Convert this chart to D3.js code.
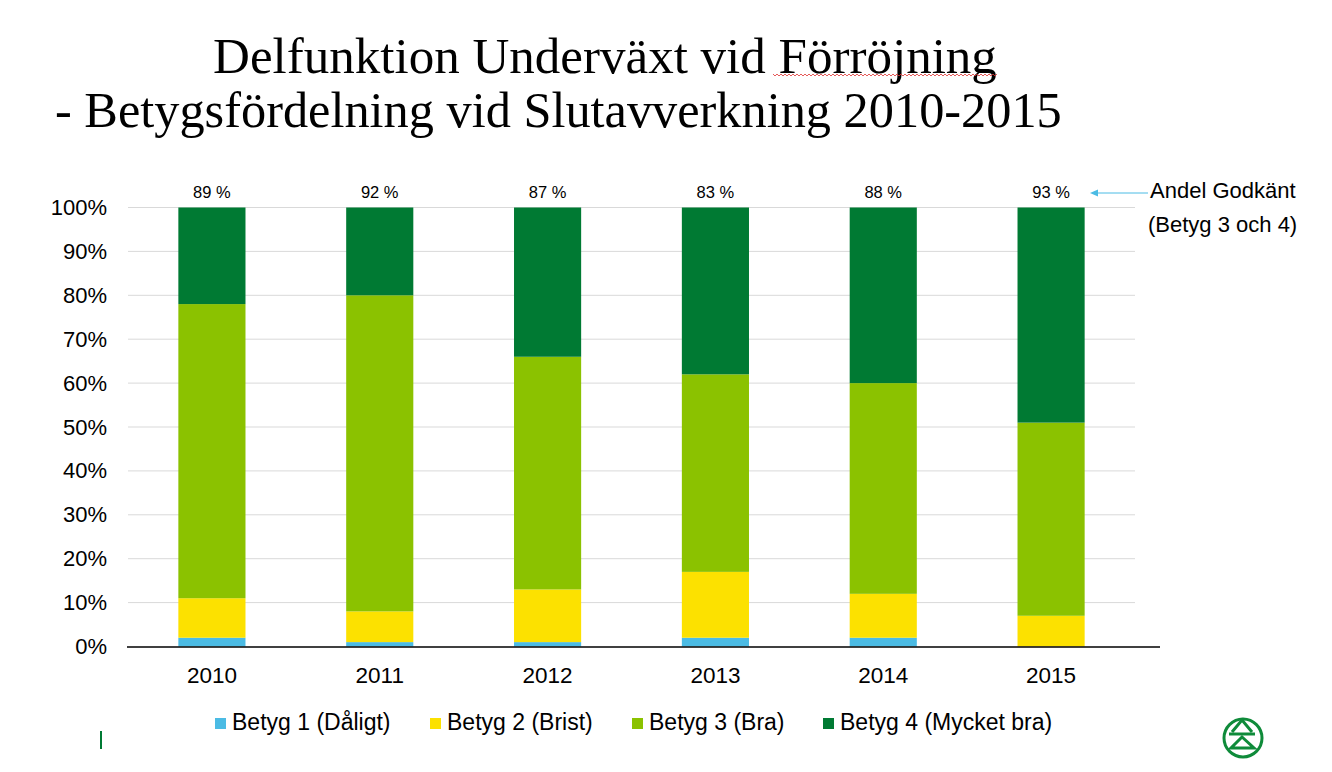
<!DOCTYPE html>
<html>
<head>
<meta charset="utf-8">
<script src="https://cdnjs.cloudflare.com/ajax/libs/d3/7.8.5/d3.min.js"></script>
<style>
  body { margin: 0; background: #fff; }
  text { font-family: Arial, "Liberation Sans", sans-serif; fill: #000; }
</style>
</head>
<body>
<div id="chart"></div>
<script>
// data
var years = ["2010", "2011", "2012", "2013", "2014", "2015"];
var betyg1 = [2, 1, 1, 2, 2, 0];
var betyg2 = [9, 7, 12, 15, 10, 7];
var betyg3 = [67, 72, 53, 45, 48, 44];
var betyg4 = [22, 20, 34, 38, 40, 49];
var godkant = ["89 %", "92 %", "87 %", "83 %", "88 %", "93 %"];
var keys = ["b1", "b2", "b3", "b4"];
var legendNames = ["Betyg 1 (Dåligt)", "Betyg 2 (Brist)", "Betyg 3 (Bra)", "Betyg 4 (Mycket bra)"];
var colors = ["#4bbbe4", "#fce100", "#8bc200", "#007a33"];
var yTicks = [0, 10, 20, 30, 40, 50, 60, 70, 80, 90, 100];

var w = 1332, h = 772;
var plotLeft = 128, plotRight = 1135, plotTop = 207.5, plotBottom = 646.5;

var svg = d3.select("#chart").append("svg")
  .attr("width", w)
  .attr("height", h);

// title
var t1 = svg.append("text")
  .attr("x", 605).attr("y", 73)
  .attr("text-anchor", "middle")
  .style("font-family", "'Liberation Serif', 'DejaVu Serif', serif")
  .style("font-size", "50px")
  .text("Delfunktion Underväxt vid Förröjning");
var t2 = svg.append("text")
  .attr("x", 55).attr("y", 127)
  .style("font-family", "'Liberation Serif', 'DejaVu Serif', serif")
  .style("font-size", "50px")
  .text("- Betygsfördelning vid Slutavverkning 2010-2015");
// fit to the widths in the picture
t1.style("font-size", (50 * 784 / t1.node().getComputedTextLength()) + "px");
t2.style("font-size", (50 * 1007 / t2.node().getComputedTextLength()) + "px");

// spell check squiggle under "Förröjning"
var sq = "M773,74";
for (var sx = 773; sx < 997; sx += 4) {
  sq += "L" + (sx + 2) + ",76L" + (sx + 4) + ",74";
}
svg.append("path").attr("d", sq).attr("fill", "none").attr("stroke", "#e03030").attr("stroke-width", 0.8);

var data = years.map(function(y, i) {
  return { year: y, b1: betyg1[i], b2: betyg2[i], b3: betyg3[i], b4: betyg4[i] };
});

var series = d3.stack().keys(keys)(data);

var xScale = d3.scaleBand()
  .domain(years)
  .range([plotLeft, plotRight])
  .paddingInner(0.6)
  .paddingOuter(0.3);

var yScale = d3.scaleLinear()
  .domain([0, 100])
  .range([plotBottom, plotTop]);

// gridlines
svg.append("g").selectAll("line")
  .data(yTicks.slice(1))
  .enter().append("line")
  .attr("x1", plotLeft).attr("x2", plotRight)
  .attr("y1", function(d) { return yScale(d); })
  .attr("y2", function(d) { return yScale(d); })
  .attr("stroke", "#d9d9d9")
  .attr("stroke-width", 1);

// bars
var groups = svg.append("g").selectAll("g")
  .data(series)
  .enter().append("g")
  .style("fill", function(d, i) { return colors[i]; });

groups.selectAll("rect")
  .data(function(d) { return d; })
  .enter().append("rect")
  .attr("x", function(d) { return xScale(d.data.year); })
  .attr("y", function(d) { return yScale(d[1]); })
  .attr("height", function(d) { return yScale(d[0]) - yScale(d[1]); })
  .attr("width", xScale.bandwidth());

// y axis labels
var yAxis = d3.axisLeft(yScale)
  .tickValues(yTicks)
  .tickSize(0)
  .tickPadding(21)
  .tickFormat(function(d) { return d + "%"; });
var gy = svg.append("g").attr("transform", "translate(" + plotLeft + ",0)").call(yAxis);
gy.select(".domain").remove();
gy.selectAll("text").style("font-size", "22px").style("font-family", "Arial, 'Liberation Sans', sans-serif").attr("fill", "#000");

// x axis
var xAxis = d3.axisBottom(xScale).tickSize(0).tickPadding(20);
var gx = svg.append("g").attr("transform", "translate(0," + (plotBottom + 0.5) + ")").call(xAxis);
gx.select(".domain").remove();
gx.selectAll("text").style("font-size", "22.5px").style("font-family", "Arial, 'Liberation Sans', sans-serif").attr("fill", "#000");
svg.append("line")
  .attr("x1", plotLeft - 1).attr("x2", 1160)
  .attr("y1", plotBottom + 0.5).attr("y2", plotBottom + 0.5)
  .attr("stroke", "#000").attr("stroke-width", 1.5);

// approval labels
svg.append("g").selectAll("text")
  .data(years)
  .enter().append("text")
  .attr("x", function(d) { return xScale(d) + xScale.bandwidth() / 2; })
  .attr("y", 198)
  .attr("text-anchor", "middle")
  .style("font-size", "16.5px")
  .text(function(d, i) { return godkant[i]; });

// annotation
svg.append("text").attr("x", 1150).attr("y", 198).style("font-size", "22px").text("Andel Godkänt");
svg.append("text").attr("x", 1148).attr("y", 232).style("font-size", "22px").text("(Betyg 3 och 4)");
svg.append("line")
  .attr("x1", 1148).attr("x2", 1096)
  .attr("y1", 193).attr("y2", 193)
  .attr("stroke", "#4bbbe4").attr("stroke-width", 1);
svg.append("path")
  .attr("d", "M1090,193L1098,189.5L1098,196.5Z")
  .attr("fill", "#4bbbe4");

// legend
var legendX = [215, 430, 632, 823];
var legend = svg.append("g").selectAll("g")
  .data(legendNames)
  .enter().append("g")
  .attr("transform", function(d, i) { return "translate(" + legendX[i] + ",0)"; });
legend.append("rect")
  .attr("x", 0).attr("y", 718)
  .attr("width", 11).attr("height", 11)
  .style("fill", function(d, i) { return colors[i]; });
legend.append("text")
  .attr("x", 17).attr("y", 730)
  .style("font-size", "23px")
  .text(function(d) { return d; });

// small decorations of the slide
svg.append("line")
  .attr("x1", 101).attr("x2", 101).attr("y1", 731).attr("y2", 749)
  .attr("stroke", "#007a33").attr("stroke-width", 2);
var logo = svg.append("g").attr("fill", "none").attr("stroke", "#0f8b3a").attr("stroke-width", 3);
logo.append("circle").attr("cx", 1243).attr("cy", 738).attr("r", 19);
logo.append("path").attr("d", "M1232,732L1242,720L1252,732");
logo.append("path").attr("d", "M1229,734L1255,734");
logo.append("path").attr("d", "M1242,737L1231,748L1254,748Z").attr("stroke-linejoin", "miter");
</script>
</body>
</html>
